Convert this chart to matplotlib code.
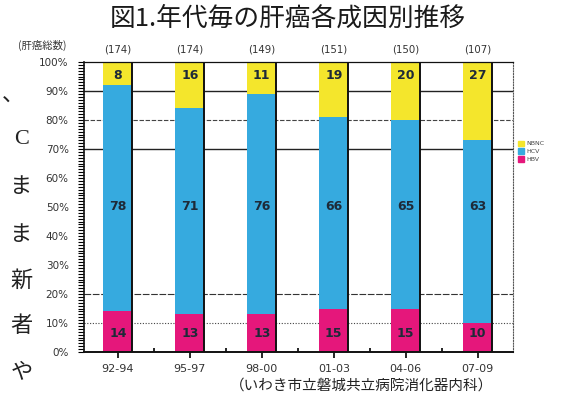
import numpy as np
import matplotlib.pyplot as plt
from matplotlib.patches import Patch

periods = ['92-94', '95-97', '98-00', '01-03', '04-06', '07-09']
totals = [174, 174, 149, 151, 150, 107]
hbv = [14, 13, 13, 15, 15, 10]
hcv = [78, 71, 76, 66, 65, 63]
nbnc = [8, 16, 11, 19, 20, 27]

yticks = [0, 10, 20, 30, 40, 50, 60, 70, 80, 90, 100]
margin_text = ['、', 'C', 'ま', 'ま', '新', '者', 'や']

c_hbv = '#E5177B'
c_hcv = '#36AADF'
c_nbnc = '#F4E62C'
c_num = '#1E2A38'
cjk = ['Noto Sans CJK JP', 'DejaVu Sans']

fig = plt.figure(figsize=(5.62, 4.0), dpi=100)
ax = fig.add_axes([0.1495, 0.12, 0.7633, 0.725])

x = np.arange(len(periods))
w = 0.40

# reference lines behind the bars
ax.axhline(90, color='#222222', lw=1.0, zorder=0)
ax.axhline(80, color='#444444', lw=0.8, ls=(0, (4, 1.5)), zorder=0)
ax.axhline(70, color='#222222', lw=1.0, zorder=0)
ax.axhline(20, color='#333333', lw=0.8, ls=(0, (6, 1.5)), zorder=0)
ax.axhline(10, color='#444444', lw=0.8, ls=(0, (1, 1.5)), zorder=0)

b1 = ax.bar(x, hbv, w, color=c_hbv, zorder=2)
b2 = ax.bar(x, hcv, w, bottom=hbv, color=c_hcv, zorder=2)
bottom3 = np.array(hbv) + np.array(hcv)
b3 = ax.bar(x, nbnc, w, bottom=bottom3, color=c_nbnc, zorder=2)

# dark shadow edge on the right of every bar
ax.vlines(x + w / 2, 0, bottom3 + np.array(nbnc), color='#111111', lw=1.4, zorder=3)

for i in range(len(periods)):
    ax.text(x[i], 6.3, str(hbv[i]), ha='center', va='center', fontsize=9,
            fontweight='bold', color=c_num, zorder=4)
    ax.text(x[i], 50, str(hcv[i]), ha='center', va='center', fontsize=9,
            fontweight='bold', color=c_num, zorder=4)
    ax.text(x[i], 95.3, str(nbnc[i]), ha='center', va='center', fontsize=9,
            fontweight='bold', color=c_num, zorder=4)
    ax.text(x[i], 104.2, f'({totals[i]})', ha='center', va='center', fontsize=7.3,
            color='#333333', clip_on=False)

ax.set_xlim(-0.47, 5.49)
ax.set_ylim(0, 100)
ax.set_yticks(yticks)
ax.set_yticklabels([f'{v}%' for v in yticks])
ax.set_yticks(np.arange(0, 101, 1), minor=True)
ax.set_xticks(x)
ax.set_xticklabels(periods)
ax.set_xticks(x[:-1] + 0.5, minor=True)

ax.tick_params(axis='y', which='both', direction='out', length=4, width=0.8,
               labelsize=7.5, labelcolor='#333333', pad=7)
ax.tick_params(axis='x', which='major', direction='out', length=4, width=1.2,
               labelsize=8, labelcolor='#333333', pad=5)
ax.tick_params(axis='x', which='minor', direction='in', length=3, width=1.2)

for s in ['left', 'bottom', 'top']:
    ax.spines[s].set_color('#111111')
ax.spines['left'].set_linewidth(1.2)
ax.spines['bottom'].set_linewidth(1.4)
ax.spines['top'].set_linewidth(0.9)
ax.spines['right'].set_color('#555555')
ax.spines['right'].set_linewidth(0.8)
ax.spines['right'].set_linestyle((0, (1, 1.5)))

handles = [Patch(color=c_nbnc), Patch(color=c_hcv), Patch(color=c_hbv)]
leg = fig.legend(handles, ['NBNC', 'HCV', 'HBV'], loc='upper left',
                 bbox_to_anchor=(0.918, 0.655), frameon=False, fontsize=4.5,
                 handlelength=0.9, handleheight=0.9, handletextpad=0.4,
                 labelspacing=0.35, borderaxespad=0)
for t in leg.get_texts():
    t.set_color('#444444')

fig.text(0.512, 0.953, '図1.年代毎の肝癌各成因別推移', ha='center', va='center',
         fontsize=18.5, family=cjk, color='#1a1a1a')
fig.text(0.075, 0.887, '(肝癌総数)', ha='center', va='center', fontsize=7.5,
         family=cjk, color='#333333')
fig.text(0.877, 0.035, '（いわき市立磐城共立病院消化器内科）', ha='right', va='center',
         fontsize=10.5, family=cjk, color='#222222')

# cut-off words of the page text on the left
ys = [95, 140, 187, 235, 280, 325, 373]
for t, yy in zip(margin_text, ys):
    if t == '、':
        fig.text(0.004, 1 - yy / 400, t, ha='left', va='center',
                 fontsize=16, family=cjk, color='#222222')
        continue
    fam = ['Liberation Serif'] if t == 'C' else cjk
    fig.text(0.038, 1 - yy / 400, t, ha='center', va='center',
             fontsize=16, family=fam, color='#222222')

fig.savefig('out.png', dpi=100, facecolor='white')
